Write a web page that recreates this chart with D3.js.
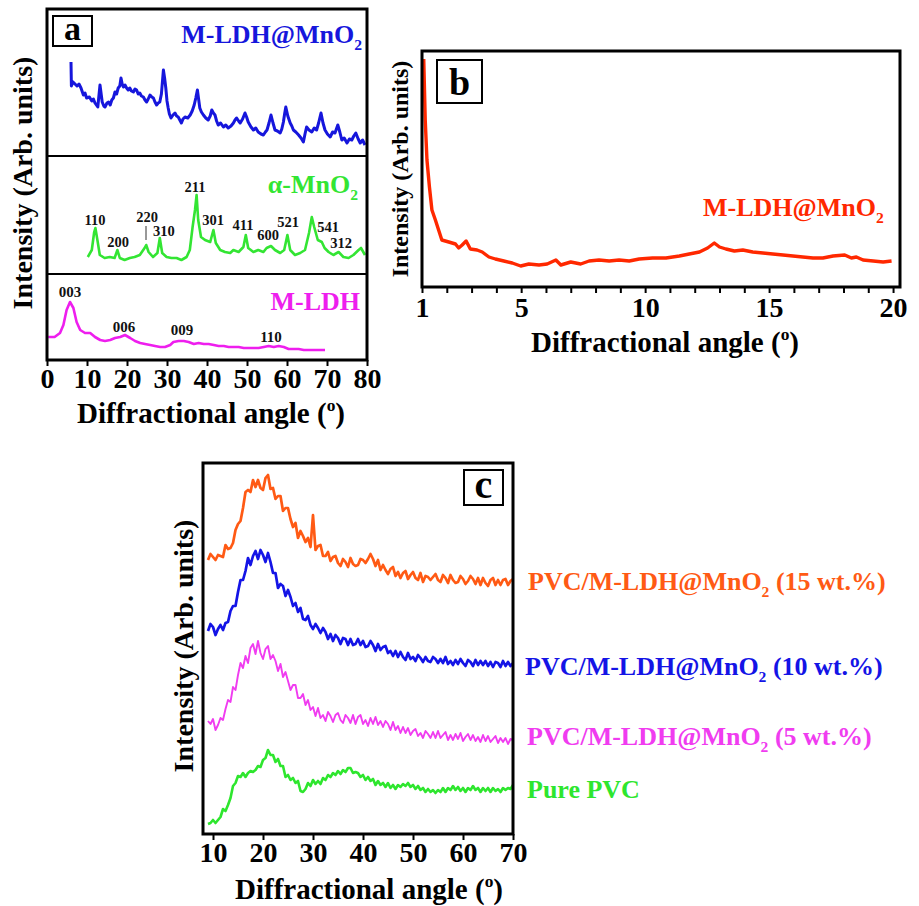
<!DOCTYPE html>
<html><head><meta charset="utf-8">
<script src="https://cdn.jsdelivr.net/npm/d3@7"></script>
<style>
body{margin:0;background:#fff}
text{font-family:"Liberation Serif","Times New Roman",serif;font-weight:bold}
</style></head>
<body><svg id="fig" width="919" height="906"></svg>
<script>
// ---------------- DATA ----------------
// Panel a: [angle, intensity]
const ldhMnO2A = [[6,94],[6.1,70],[6.5,74],[7,72],[7.5,70],[8,72],[8.5,68],[9.1,61],[9.5,63],[9.9,58],[10.6,59],[11.2,55],[11.6,57],[12,53],[12.7,49],[13.25,71],[13.8,54],[14.2,50],[14.5,49],[15,53],[15.4,54],[15.8,51],[16.2,56],[16.6,58],[17,64],[17.4,62],[17.8,68],[18.2,70],[18.5,78],[18.8,72],[19.1,69],[19.5,71],[19.9,68],[20.3,66],[20.7,68],[21.1,65],[21.6,64],[22,67],[22.4,66],[22.8,62],[23.2,63],[23.6,60],[24.1,59],[24.5,56],[24.9,54],[25.3,57],[25.75,61],[26.2,59],[26.6,58],[27,54],[27.4,51],[27.8,53],[28.2,54],[28.6,62],[29.1,86],[29.4,78],[29.7,68],[30,55],[30.3,48],[30.6,42],[31,38],[31.5,41],[32,43],[32.4,40],[32.8,39],[33.2,36],[33.6,33],[34,37],[34.5,39],[35.2,38],[35.8,41],[36.3,45],[36.8,51],[37.2,58],[37.6,66],[37.9,57],[38.2,48],[38.6,44],[39.1,41],[39.7,38],[40.3,36],[40.8,40],[41.2,46],[41.6,43],[42,41],[42.4,35],[42.8,31],[43.4,33],[44.1,29],[44.7,31],[45.3,28],[46,30],[46.6,33],[47,36],[47.4,38],[47.9,35],[48.3,33],[48.9,37],[49.5,43],[49.9,39],[50.3,34],[51,29],[51.6,26],[52.2,28],[52.8,24],[53.5,22],[54.1,21],[54.6,24],[55,26],[55.5,33],[56,41],[56.5,33],[57,26],[57.6,25],[58.3,23],[58.7,27],[59.1,34],[59.4,42],[59.7,49],[60.2,40],[60.8,33],[61.2,30],[61.6,26],[62.2,24],[62.9,21],[63.5,18],[64.1,14],[64.5,22],[64.9,29],[65.5,26],[66.2,24],[66.8,28],[67.4,26],[67.9,33],[68.5,43],[69,33],[69.5,26],[70.1,22],[70.8,19],[71.4,24],[72,23],[72.7,31],[73.2,24],[73.7,16],[74.3,18],[75,13],[75.6,17],[76.2,16],[76.7,20],[77.2,23],[77.8,17],[78.3,13],[78.9,16],[79.5,11]];

const alphaMnO2 = [[10.2,17],[11.2,24],[11.8,42],[12.1,46],[12.6,34],[13.2,19],[14.4,16],[15.7,17],[16.9,16],[17.6,24],[18.2,16],[19.4,14],[20.7,16],[21.9,17],[23.2,19],[24.4,26],[24.8,29],[25.4,22],[26.5,17],[27.6,21],[28.2,36],[28.8,21],[29.9,17],[31.1,16],[32.4,16],[33.6,14],[34.9,17],[35.7,24],[36.4,47],[37,64],[37.4,79],[37.8,54],[38.5,37],[39.5,34],[40.8,32],[41.6,44],[42.2,31],[43.3,24],[44.5,22],[45.8,21],[46.6,24],[47.9,22],[49.1,27],[49.7,39],[50.3,26],[51.6,22],[52.8,24],[54.1,22],[54.9,26],[56,28],[57,24],[58.3,21],[59.3,24],[60.1,39],[60.8,24],[62,19],[63.3,21],[64.5,24],[65.5,41],[66.2,57],[66.8,47],[67.7,34],[68.7,32],[69.4,26],[70.4,22],[71.6,19],[72.9,22],[74.1,17],[75.4,16],[76.6,19],[77.9,24],[78.5,26],[79.5,19]];

const mLDH = [[0.3,23],[1.9,23],[3.25,27],[4.1,35],[4.9,50],[5.75,58],[6.6,52],[7.4,38],[8.3,30],[9.5,27],[10.8,27],[12,23],[13.3,20],[14.5,19],[15.8,20],[17,22],[18.3,23],[19.5,25],[20.8,22],[22,19],[23.3,17],[24.5,16],[25.8,15],[27,14],[28.3,13],[29.5,13],[30.8,15],[31.6,18],[32.9,19],[34.2,19],[35.4,18],[36.7,16],[37.9,17],[39.2,16],[40.4,16],[41.7,15],[42.9,14],[44.2,14],[45.4,13],[46.7,13],[47.9,13],[49.2,12],[50.4,12],[51.7,12],[52.9,12],[54.2,13],[55.4,14],[56.7,13],[57.9,14],[59.2,13],[60.4,11],[61.7,11],[62.9,11],[64.2,10],[65.4,10],[66.7,10],[67.9,10],[69.5,10]];

const mno2Hkl = ["110","200","220","310","211","301","411","600","521","541","312"];
const mno2HklAngle = [12,17.75,25,29.2,37,41.5,49,55.25,60.25,70.25,73.5];
const mno2HklLevel = [49,27,52,38,82,49,44,34,47,42,26];
const ldhHkl = ["003","006","009","110"];
const ldhHklAngle = [5.75,19.25,33.75,56];
const ldhHklLevel = [63,28,25,18];

const ticksA = [0,10,20,30,40,50,60,70,80];

// Panel b: [angle, intensity]
const ldhMnO2B = [[1.07,228],[1.13,167],[1.2,127],[1.3,100],[1.4,77],[1.54,67],[1.67,57],[1.8,47],[2.08,45],[2.35,43],[2.48,39],[2.62,42],[2.78,46],[2.95,38],[3.22,37],[3.43,35],[3.7,30],[3.96,28],[4.3,26],[4.64,24],[4.98,21],[5.31,23],[5.72,22],[6.05,23],[6.4,27],[6.6,22],[7,25],[7.4,23],[7.74,26],[8.14,27],[8.55,26],[8.95,27],[9.36,26],[9.76,28],[10.3,29],[10.84,29],[11.38,31],[11.78,33],[12.19,35],[12.52,39],[12.79,44],[13,40],[13.26,38],[13.6,36],[13.94,37],[14.34,35],[14.75,34],[15.15,33],[15.56,32],[15.96,31],[16.36,30],[16.77,29],[17.17,29],[17.58,31],[18.05,32],[18.32,29],[18.52,30],[18.79,27],[19.2,26],[19.6,25],[19.94,26]];
const ticksB = [1,2,3,4,5,6,7,8,9,10,11,12,13,14,15,16,17,18,19,20];
const tickLabelsB = [1,5,10,15,20];

// Panel c
const anglesC = [9,9.5,10,10.5,11,11.5,12,12.5,13,13.5,
14,14.5,15,15.5,16,16.5,17,17.5,18,18.5,
19,19.5,20,20.5,21,21.5,22,22.5,23,23.5,
24,24.5,25,25.5,26,26.5,27,27.5,28,28.5,
29,29.5,30,30.5,31,31.5,32,32.5,33,33.5,
34,34.5,35,35.5,36,36.5,37,37.5,38,38.5,
39,39.5,40,40.5,41,41.5,42,42.5,43,43.5,
44,44.5,45,45.5,46,46.5,47,47.5,48,48.5,
49,49.5,50,50.5,51,51.5,52,52.5,53,53.5,
54,54.5,55,55.5,56,56.5,57,57.5,58,58.5,
59,59.5,60,60.5,61,61.5,62,62.5,63,63.5,
64,64.5,65,65.5,66,66.5,67,67.5,68,68.5,
69,69.5,70];
const pvc15 = [274,280,277,274,279,278,277,289,285,286,
291,304,310,313,326,342,344,342,354,347,
354,346,344,356,359,345,346,335,338,338,
323,326,326,315,307,311,296,303,298,292,
296,287,319,284,288,289,278,278,282,273,
277,278,271,268,275,272,267,276,270,268,
269,275,274,271,275,280,275,268,274,264,
269,264,260,265,267,258,262,256,261,263,
255,259,262,256,254,261,252,258,257,254,
257,260,254,252,259,256,251,259,254,251,
252,258,255,250,253,258,255,250,256,249,
256,251,248,254,256,249,254,249,254,255,
249,253,255];
const pvc10 = [203,210,207,199,205,209,204,211,212,223,
228,228,242,254,254,263,276,269,278,283,
275,284,279,272,281,272,261,261,246,250,
248,238,244,237,228,231,222,226,215,214,
218,209,205,210,206,201,206,202,195,200,
193,199,196,190,196,195,189,195,189,190,
195,189,193,187,188,193,189,183,190,184,
187,188,181,183,178,183,177,182,177,174,
181,175,177,173,179,176,172,177,173,172,
177,175,171,175,171,177,170,173,169,174,
170,175,171,168,174,172,168,174,169,173,
169,173,168,172,167,172,171,167,173,168,
172,168,171];
const pvc5 = [113,110,115,104,109,116,114,125,134,132,
147,144,159,171,166,178,171,186,190,180,
193,181,175,185,188,175,179,173,163,170,
157,162,153,144,149,149,136,136,140,129,
134,124,127,118,126,116,119,113,122,118,
112,119,121,114,111,119,116,111,119,110,
117,119,110,114,108,116,110,117,109,113,
107,113,110,104,112,104,108,101,107,101,
106,99,103,105,98,101,96,103,100,96,
102,96,103,96,99,102,94,99,94,100,
95,101,93,97,100,94,99,93,97,92,
99,93,98,92,95,98,91,96,92,96,
90,95,94];
const purePVC = [10,11,14,11,14,17,25,23,29,36,
48,51,58,57,61,57,61,63,62,64,
68,67,74,76,84,79,79,72,75,68,
68,57,59,54,56,51,53,43,42,45,
51,48,54,50,53,50,56,54,59,57,
61,59,63,60,64,62,66,66,61,62,
61,57,59,54,57,53,55,49,53,49,
51,47,51,46,49,45,49,47,50,48,
51,47,49,45,48,44,46,42,45,42,
44,41,44,42,46,42,46,44,48,44,
47,43,46,42,46,44,48,44,46,42,
46,43,46,42,46,43,45,42,46,44,
46,45,49];
const ticksC = [10,20,30,40,50,60,70];
const seriesC = ["PVC/M-LDH@MnO2 (15 wt.%)","PVC/M-LDH@MnO2 (10 wt.%)","PVC/M-LDH@MnO2 (5 wt.%)","Pure PVC"];

// ---------------- DRAW ----------------
const svg = d3.select("#fig");
const C = {blueA:"#1616dc", greenA:"#33e533", pinkA:"#ee1eee", red:"#ff2800",
  orange:"#ff5a14", blueC:"#1414e6", pinkC:"#f03cf0", greenC:"#2ee62e"};

function richText(g, x, y, parts, opt){
  const t = g.append("text").attr("x", x).attr("y", y)
    .attr("font-size", opt.size).attr("fill", opt.color || "#000")
    .attr("text-anchor", opt.anchor || "start");
  let shift = 0;
  parts.forEach(p => {
    const ts = t.append("tspan").text(p.t);
    let target = 0;
    if (p.sub) { ts.attr("font-size", opt.size*0.6); target = opt.size*0.28; }
    if (p.sup) { ts.attr("font-size", opt.size*0.6); target = -opt.size*0.4; }
    if (target - shift !== 0) ts.attr("dy", target - shift);
    shift = target;
  });
  if (opt.rotate) t.attr("transform", `rotate(${opt.rotate},${x},${y})`);
  return t;
}
const xTitle = [{t:"Diffractional angle ("},{t:"o",sup:true},{t:")"}];
const yTitle = [{t:"Intensity (Arb. units)"}];

function frame(g, x0, y0, x1, y1){
  g.append("rect").attr("x", x0).attr("y", y0).attr("width", x1-x0).attr("height", y1-y0)
    .attr("fill", "none").attr("stroke", "#000").attr("stroke-width", 3);
}
function letterBox(g, x, y, w, h, letter, size, base){
  g.append("rect").attr("x", x).attr("y", y).attr("width", w).attr("height", h)
    .attr("fill", "#fff").attr("stroke", "#000").attr("stroke-width", 2);
  g.append("text").attr("x", x + w/2).attr("y", base).attr("text-anchor", "middle")
    .attr("font-size", size).text(letter);
}
function styleAxis(ax, labelY, size){
  ax.select(".domain").remove();
  ax.selectAll(".tick line").attr("stroke", "#000").attr("stroke-width", 2);
  ax.selectAll(".tick text").attr("y", labelY).attr("dy", null)
    .attr("font-size", size).attr("font-family", "Liberation Serif, serif")
    .attr("font-weight", "bold").attr("fill", "#000");
}

// ===== Panel a =====
const gA = svg.append("g");
const xA = d3.scaleLinear().domain([0, 80]).range([47, 367]);
const yA1 = d3.scaleLinear().domain([0, 147]).range([156, 9]);
const yA2 = d3.scaleLinear().domain([0, 118]).range([274, 156]);
const yA3 = d3.scaleLinear().domain([0, 86]).range([360, 274]);

const lineOf = (xs, ys) => d3.line().x(d => xs(d[0])).y(d => ys(d[1]));
gA.append("path").datum(ldhMnO2A).attr("d", lineOf(xA, yA1))
  .attr("fill","none").attr("stroke",C.blueA).attr("stroke-width",3).attr("stroke-linejoin","round");
gA.append("path").datum(alphaMnO2).attr("d", lineOf(xA, yA2))
  .attr("fill","none").attr("stroke",C.greenA).attr("stroke-width",2.6).attr("stroke-linejoin","round");
gA.append("path").datum(mLDH).attr("d", lineOf(xA, yA3))
  .attr("fill","none").attr("stroke",C.pinkA).attr("stroke-width",2.6).attr("stroke-linejoin","round");

// dividers
gA.append("line").attr("x1", 47).attr("x2", 367).attr("y1", yA2.range()[1]).attr("y2", yA2.range()[1])
  .attr("stroke","#000").attr("stroke-width",2);
gA.append("line").attr("x1", 47).attr("x2", 367).attr("y1", yA3.range()[1]).attr("y2", yA3.range()[1])
  .attr("stroke","#000").attr("stroke-width",2);

// hkl labels
mno2Hkl.forEach((h, i) => {
  gA.append("text").attr("x", xA(mno2HklAngle[i])).attr("y", yA2(mno2HklLevel[i]))
    .attr("text-anchor","middle").attr("font-size",14.5).attr("fill","#111").text(h);
});
gA.append("line").attr("x1", xA(24.75)).attr("x2", xA(24.75)).attr("y1", yA2(48)).attr("y2", yA2(34))
  .attr("stroke","#333").attr("stroke-width",1);
ldhHkl.forEach((h, i) => {
  gA.append("text").attr("x", xA(ldhHklAngle[i])).attr("y", yA3(ldhHklLevel[i]))
    .attr("text-anchor","middle").attr("font-size",15).attr("fill","#111").text(h);
});

const axA = gA.append("g").attr("transform","translate(0,360)")
  .call(d3.axisBottom(xA).tickValues(ticksA).tickSize(6).tickFormat(d3.format("d")));
styleAxis(axA, 28, 28);
frame(gA, 47, 9, 367, 360);
letterBox(gA, 53, 16, 39, 30, "a", 34, 40);

richText(gA, 362, 43, [{t:"M-LDH@MnO"},{t:"2",sub:true}], {size:26, color:C.blueA, anchor:"end"});
richText(gA, 358, 193, [{t:"α-MnO"},{t:"2",sub:true}], {size:26, color:C.greenA, anchor:"end"});
richText(gA, 360, 310, [{t:"M-LDH"}], {size:26, color:C.pinkA, anchor:"end"});
richText(gA, 211, 423, xTitle, {size:29, anchor:"middle"});
richText(gA, 32, 183, yTitle, {size:28, anchor:"middle", rotate:-90});

// ===== Panel b =====
const gB = svg.append("g");
const xB = d3.scaleLinear().domain([1, 20.28]).range([422, 900]);
const yB = d3.scaleLinear().domain([0, 236]).range([287, 51]);
gB.append("path").datum(ldhMnO2B).attr("d", lineOf(xB, yB))
  .attr("fill","none").attr("stroke",C.red).attr("stroke-width",3.4).attr("stroke-linejoin","round");
const axB = gB.append("g").attr("transform","translate(0,287)")
  .call(d3.axisBottom(xB).tickValues(ticksB).tickSize(6)
    .tickFormat(d => tickLabelsB.includes(d) ? d : ""));
styleAxis(axB, 30, 28);
frame(gB, 422, 51, 900, 287);
letterBox(gB, 437, 60, 45, 43, "b", 38, 95);
richText(gB, 703, 216, [{t:"M-LDH@MnO"},{t:"2",sub:true}], {size:26, color:C.red});
richText(gB, 665, 352, xTitle, {size:29, anchor:"middle"});
richText(gB, 408, 169, yTitle, {size:24, anchor:"middle", rotate:-90});

// ===== Panel c =====
const gC = svg.append("g");
const xC = d3.scaleLinear().domain([8, 70]).range([203, 513]);
const yC = d3.scaleLinear().domain([0, 371]).range([834, 463]);
const lineC = d3.line().x((d, i) => xC(anglesC[i])).y(d => yC(d));
const seriesCVals = [pvc15, pvc10, pvc5, purePVC];
const seriesCColors = [C.orange, C.blueC, C.pinkC, C.greenC];
const seriesCWidths = [2.7, 2.7, 1.9, 2.6];
seriesCVals.forEach((vals, k) => {
  gC.append("path").datum(vals).attr("d", lineC)
    .attr("fill","none").attr("stroke",seriesCColors[k]).attr("stroke-width",seriesCWidths[k])
    .attr("stroke-linejoin","round");
});
const axC = gC.append("g").attr("transform","translate(0,834)")
  .call(d3.axisBottom(xC).tickValues(ticksC).tickSize(6));
styleAxis(axC, 28, 28);
frame(gC, 203, 463, 513, 834);
letterBox(gC, 464, 470, 39, 35, "c", 40, 498);

const legX = [528, 525, 527, 527];
const legY = [590, 675, 745, 798];
seriesC.forEach((name, k) => {
  const m = name.match(/^(.*MnO)2(.*)$/);
  const parts = m ? [{t:m[1]},{t:"2",sub:true},{t:m[2]}] : [{t:name}];
  richText(gC, legX[k], legY[k], parts, {size:26, color:seriesCColors[k]});
});
richText(gC, 369, 899, xTitle, {size:29, anchor:"middle"});
richText(gC, 193, 646, yTitle, {size:28, anchor:"middle", rotate:-90});
</script>
</body></html>
